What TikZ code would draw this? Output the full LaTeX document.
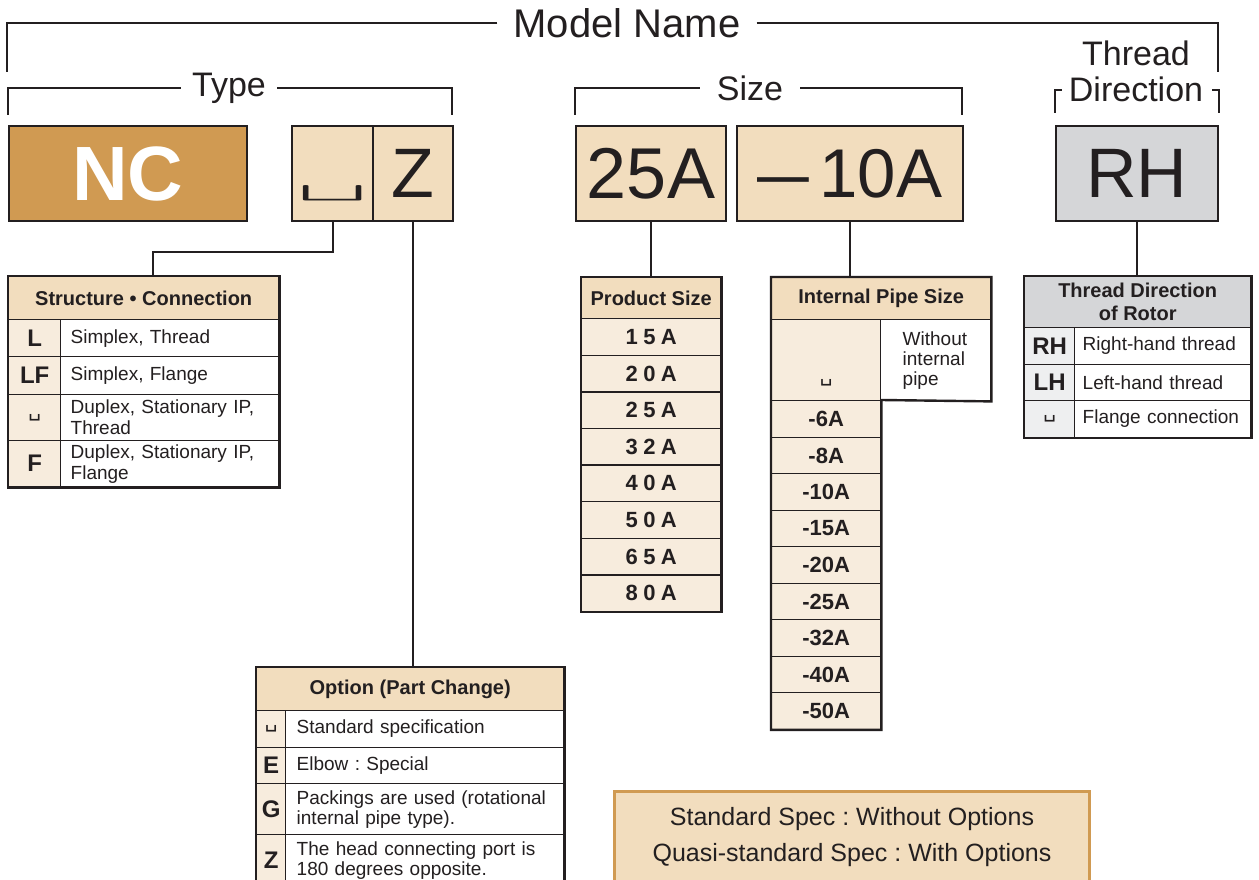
\documentclass[tikz,border=0pt]{standalone}
\usepackage{fontspec}
\setmainfont{Liberation Sans}
\newfontfamily\blankfont{DejaVu Sans}
\usepackage{graphicx}
\usetikzlibrary{positioning}
\frenchspacing

\definecolor{ink}{RGB}{35,31,32}
\definecolor{ncbrown}{RGB}{208,154,82}
\definecolor{tan}{RGB}{242,221,190}
\definecolor{paletan}{RGB}{247,236,221}
\definecolor{greybox}{RGB}{213,214,216}
\definecolor{palegrey}{RGB}{238,239,240}

\newcommand{\opbox}{{\blankfont\char"2423}}
\newcommand{\wideopbox}{{\ttfamily\char"2423}}

\begin{document}
\begin{tikzpicture}[
  x=1pt, y=-1pt,
  every node/.style={text=ink, inner sep=0pt},
  bigbox/.style={draw=ink, line width=2pt, anchor=north west, minimum height=95},
  hdr/.style={draw=ink, line width=1.4pt, fill=tan, anchor=north west, align=center,
              font=\bfseries\fontsize{20}{23}\selectfont},
  codecell/.style={draw=ink, line width=1.4pt, fill=paletan, anchor=north west,
                   font=\bfseries\fontsize{24}{26}\selectfont},
  desc/.style={draw=ink, line width=1.4pt, fill=white, anchor=north west, align=left,
               font=\fontsize{19}{21}\selectfont},
  sizecell/.style={codecell, minimum width=139, minimum height=36.6,
                   font=\bfseries\fontsize{22}{24}\selectfont\addfontfeatures{LetterSpace=25}},
  pipecell/.style={codecell, minimum width=109, minimum height=36.5,
                   font=\bfseries\fontsize{22}{24}\selectfont},
  outline/.style={draw=ink, line width=2.4pt},
  bracket/.style={draw=ink, line width=2.6pt},
  link/.style={draw=ink, line width=2pt},
  title/.style={font=\fontsize{34}{36}\selectfont}
]
  \useasboundingbox[fill=white] (0,0) rectangle (1259,880);

  % Headings and brackets
  \node[font=\fontsize{40}{44}\selectfont, inner xsep=16pt] (mn) at (627,23) {Model Name};
  \draw[bracket] (mn.west) -| (7,72);
  \draw[bracket] (mn.east) -| (1218,72);

  \node[title, inner xsep=11pt] (ty) at (229,88) {Type};
  \draw[bracket] (ty.west) -| (8,115);
  \draw[bracket] (ty.east) -| (452,115);

  \node[title, inner xsep=17pt] (sz) at (750,88) {Size};
  \draw[bracket] (sz.west) -| (575,115);
  \draw[bracket] (sz.east) -| (962,115);

  \node[title, align=center] (tdir) at (1136,71) {Thread\\Direction};

  % Code boxes
  \node[bigbox, fill=ncbrown, minimum width=238, text=white,
        font=\bfseries\fontsize{77}{80}\selectfont] (nc) at (8,125) {NC};
  \node[bigbox, fill=tan, minimum width=81, font=\fontsize{130}{130}\selectfont]
        (bl) at (291,125) {\raisebox{-22pt}[0pt][0pt]{\scalebox{1.05}[0.32]{\wideopbox}}};
  \node[bigbox, fill=tan, minimum width=80, font=\fontsize{70}{72}\selectfont]
        (zb) at (372,125) {Z};
  \node[bigbox, fill=tan, minimum width=150, font=\fontsize{72}{74}\selectfont]
        (sa) at (575,125) {25A};
  \node[bigbox, fill=tan, minimum width=226, font=\fontsize{69}{72}\selectfont]
        (sb) at (736,125) {\scalebox{1.35}[1]{–}\hspace{10pt}10A};
  \node[bigbox, fill=greybox, minimum width=162, font=\fontsize{70}{72}\selectfont]
        (rh) at (1055,125) {RH};

  \draw[bracket] ([yshift=12pt]rh.north west) -- ++(0,-23) -- ++(7,0);
  \draw[bracket] ([yshift=12pt]rh.north east) -- ++(0,-23) -- ++(-7,0);

  % Structure / Connection
  \node[hdr, minimum width=270, minimum height=43] (st) at (8,276) {Structure • Connection};
  \node[codecell, minimum width=52, minimum height=37] (stL) at (8,319) {L};
  \node[desc, minimum height=37, inner xsep=10pt, text width=198pt] (stLd) at (60,319) {Simplex, Thread};
  \node[codecell, minimum width=52, minimum height=38] (stLF) at (8,356) {LF};
  \node[desc, minimum height=38, inner xsep=10pt, text width=198pt] (stLFd) at (60,356) {Simplex, Flange};
  \node[codecell, minimum width=52, minimum height=46, font=\fontsize{20}{22}\selectfont] (stB) at (8,394) {\opbox};
  \node[desc, minimum height=46, inner xsep=10pt, text width=198pt] (stBd) at (60,394) {Duplex, Stationary IP,\\Thread};
  \node[codecell, minimum width=52, minimum height=46] (stF) at (8,440) {F};
  \node[desc, minimum height=46, inner xsep=10pt, text width=198pt] (stFd) at (60,440) {Duplex, Stationary IP,\\Flange};
  \draw[outline] (st.north west) rectangle (stFd.south east);

  % Product size
  \node[hdr, minimum width=139, minimum height=41] (ps) at (581,277) {Product Size};
  \node[sizecell] (ps1) at (581,318)   {15A};
  \node[sizecell] (ps2) at (581,354.6) {20A};
  \node[sizecell] (ps3) at (581,391.2) {25A};
  \node[sizecell] (ps4) at (581,427.8) {32A};
  \node[sizecell] (ps5) at (581,464.4) {40A};
  \node[sizecell] (ps6) at (581,501)   {50A};
  \node[sizecell] (ps7) at (581,537.6) {65A};
  \node[sizecell] (ps8) at (581,574.2) {80A};
  \draw[outline] (ps.north west) rectangle (ps8.south east);

  % Internal pipe size
  \node[hdr, minimum width=219, minimum height=42] (ip) at (771,277) {Internal Pipe Size};
  \node[codecell, minimum width=109, minimum height=81, font=\fontsize{20}{22}\selectfont]
        (ip0) at (771,319) {\raisebox{-21pt}[0pt][0pt]{\opbox}};
  \node[desc, minimum height=81, inner xsep=22pt, text width=66pt, font=\fontsize{19}{20}\selectfont]
        (ip0d) at (880,319) {Without\\internal\\pipe};
  \node[pipecell] (ip1) at (771,400)   {-6A};
  \node[pipecell] (ip2) at (771,436.5) {-8A};
  \node[pipecell] (ip3) at (771,473)   {-10A};
  \node[pipecell] (ip4) at (771,509.5) {-15A};
  \node[pipecell] (ip5) at (771,546)   {-20A};
  \node[pipecell] (ip6) at (771,582.5) {-25A};
  \node[pipecell] (ip7) at (771,619)   {-32A};
  \node[pipecell] (ip8) at (771,655.5) {-40A};
  \node[pipecell] (ip9) at (771,692)   {-50A};
  \draw[outline] (ip.north west) -- (ip.north east) -- (ip0d.south east) -- (ip1.north east)
        -- (ip9.south east) -- (ip9.south west) -- cycle;

  % Thread direction of rotor
  \node[hdr, fill=greybox, minimum width=226, minimum height=51] (rot) at (1024,276) {Thread Direction\\of Rotor};
  \node[codecell, fill=palegrey, minimum width=50, minimum height=36.5] (rtR) at (1024,327) {RH};
  \node[desc, minimum height=36.5, inner xsep=8pt, text width=160pt] (rtRd) at (1074,327) {Right-hand thread};
  \node[codecell, fill=palegrey, minimum width=50, minimum height=36.5] (rtL) at (1024,363.5) {LH};
  \node[desc, minimum height=36.5, inner xsep=8pt, text width=160pt] (rtLd) at (1074,363.5) {Left-hand thread};
  \node[codecell, fill=palegrey, minimum width=50, minimum height=36.5, font=\fontsize{20}{22}\selectfont] (rtB) at (1024,400) {\opbox};
  \node[desc, minimum height=36.5, inner xsep=8pt, text width=160pt] (rtBd) at (1074,400) {Flange connection};
  \draw[outline] (rot.north west) rectangle (rtBd.south east);

  % Option (part change)
  \node[hdr, minimum width=307, minimum height=43] (opt) at (256,667) {Option (Part Change)};
  \node[codecell, minimum width=29, minimum height=36.5, font=\fontsize{20}{22}\selectfont] (op1) at (256,710) {\opbox};
  \node[desc, minimum height=36.5, inner xsep=11pt, text width=256pt] (op1d) at (285,710) {Standard specification};
  \node[codecell, minimum width=29, minimum height=36.5] (op2) at (256,746.5) {E};
  \node[desc, minimum height=36.5, inner xsep=11pt, text width=256pt] (op2d) at (285,746.5) {Elbow : Special};
  \node[codecell, minimum width=29, minimum height=51] (op3) at (256,783) {G};
  \node[desc, minimum height=51, inner xsep=11pt, text width=256pt, font=\fontsize{19}{20}\selectfont] (op3d) at (285,783) {Packings are used (rotational\\internal pipe type).};
  \node[codecell, minimum width=29, minimum height=51] (op4) at (256,834) {Z};
  \node[desc, minimum height=51, inner xsep=11pt, text width=256pt, font=\fontsize{19}{20}\selectfont] (op4d) at (285,834) {The head connecting port is\\180 degrees opposite.};
  \draw[outline] (opt.north west) rectangle (op4d.south east);

  % Note
  \node[draw=ncbrown, line width=3pt, fill=tan, anchor=north west,
        minimum width=475, minimum height=100] (spec) at (613,790) {};
  \node[below=17pt of spec.north, align=center, font=\fontsize{25}{36}\selectfont]
        (spectxt) {Standard Spec : Without Options\\Quasi-standard Spec : With Options};

  % Connectors
  \draw[link] (bl.south) -- ++(0,30) -| ([xshift=9pt]st.north);
  \draw[link] (zb.south) -- (zb.south |- opt.north);
  \draw[link] (sa.south) -- (sa.south |- ps.north);
  \draw[link] (sb.south) -- (sb.south |- ip.north);
  \draw[link] (rh.south) -- (rh.south |- rot.north);
\end{tikzpicture}
\end{document}
